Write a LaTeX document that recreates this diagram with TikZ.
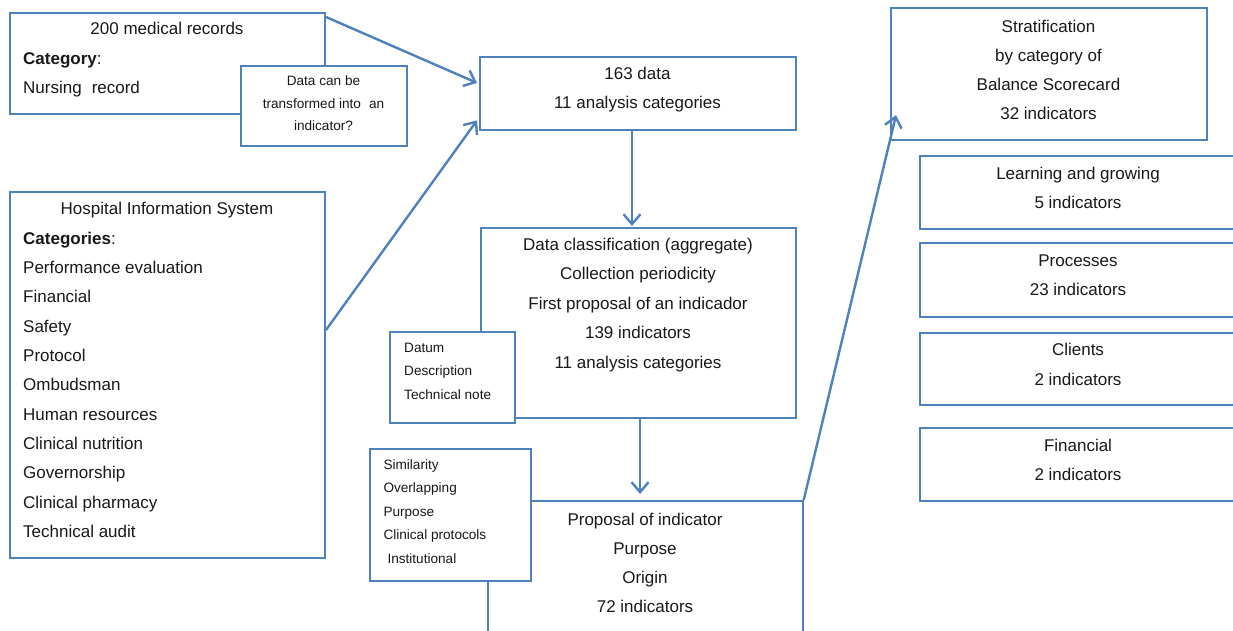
\documentclass[tikz,border=0pt]{standalone}
\usepackage{fontspec}
\setmainfont{Liberation Sans}
\usetikzlibrary{arrows.meta,fit}
\definecolor{bl}{HTML}{4F81BD}
\tikzset{
 box/.style={draw=bl, line width=2pt, fill=white, inner sep=0pt},
 arr/.style={draw=bl, line width=2.4pt, -{Straight Barb[length=10pt,width=17pt]}},
 big/.style={font=\fontsize{17}{20}\selectfont, inner sep=0pt, text=black!90},
 sm/.style={font=\fontsize{13.6}{16}\selectfont, inner sep=0pt, text=black!90},
}
\newcommand\txtlines[6]{\foreach \t [count=\i from 0] in {#6}{\node[#2] (#1\i) at ({#3},{#4+\i*#5}) {\t};}}
\begin{document}
\begin{tikzpicture}[x=1pt,y=-1pt]
\clip (0,0) rectangle (1233,630);
\fill[white] (0,0) rectangle (1233,630);
% 200 medical records
\node[box, fit={(10,12.7) (325,114.3)}] (A) {};
\node[big, anchor=base] (A0) at (167,34.5) {200 medical records};
\txtlines{Al}{big, anchor=base west}{23}{64}{29.5}{\textbf{Category}:, Nursing\hspace{10pt}record}
% question box
\node[box, fit={(240.7,65.7) (407.3,145.7)}] (Q) {};
\txtlines{Qt}{sm, anchor=base}{323.5}{85.7}{22.6}{Data can be, transformed into\hspace{8pt}an, indicator?}
% HIS
\node[box, fit={(10,192) (325,558)}] (H) {};
\node[big, anchor=base] (H0) at (167,214.5) {Hospital Information System};
\txtlines{Hl}{big, anchor=base west}{23}{244}{29.36}{\textbf{Categories}:, Performance evaluation, Financial, Safety, Protocol, Ombudsman, Human resources, Clinical nutrition, Governorship, Clinical pharmacy, Technical audit}
% 163 data
\node[box, fit={(480,57.3) (796,129.5)}] (B) {};
\txtlines{Bt}{big, anchor=base}{637.5}{79.5}{29}{163 data, 11 analysis categories}
% classification
\node[box, fit={(481,228) (795.7,418.3)}] (C) {};
\txtlines{Ct}{big, anchor=base}{638}{250.5}{29.4}{Data classification (aggregate), Collection periodicity, First proposal of an indicador, 139 indicators, 11 analysis categories}
\node[box, fit={(390,331.7) (515,422.7)}] (D) {};
\txtlines{Dt}{sm, anchor=base west}{404}{352.3}{23.35}{Datum, Description, Technical note}
% proposal
\node[box, fit={(487.7,501) (802.7,680)}] (P) {};
\txtlines{Pt}{big, anchor=base}{645}{525}{29.3}{Proposal of indicator, Purpose, Origin, 72 indicators}
\node[box, fit={(370,449.3) (530.7,580.7)}] (S) {};
\txtlines{St}{sm, anchor=base west}{383.3}{469}{23.5}{Similarity, Overlapping, Purpose, Clinical protocols, \hspace{4pt}Institutional}
% right column
\node[box, fit={(891,8.3) (1206.7,140)}] (T) {};
\txtlines{Tt}{big, anchor=base}{1048.5}{32.3}{29}{Stratification, by category of, Balance Scorecard, 32 indicators}
\node[box, fit={(920,155.7) (1260,229)}] (L) {};
\txtlines{Lt}{big, anchor=base}{1078}{179.3}{29}{Learning and growing, 5 indicators}
\node[box, fit={(920,243.3) (1260,316.7)}] (R) {};
\txtlines{Rt}{big, anchor=base}{1078}{266}{29.3}{Processes, 23 indicators}
\node[box, fit={(920,332.7) (1260,405)}] (K) {};
\txtlines{Kt}{big, anchor=base}{1078}{355.5}{29.8}{Clients, 2 indicators}
\node[box, fit={(920,428.3) (1260,500.7)}] (F) {};
\txtlines{Ft}{big, anchor=base}{1078}{451.7}{28.5}{Financial, 2 indicators}
% arrows
\coordinate (c1) at ([xshift=1.7pt]C.south);
\coordinate (b1) at ([xshift=-6pt]B.south);
\draw[arr] ([yshift=-5.3pt]A.north east) -- ([yshift=10.5pt,xshift=-2pt]B.west);
\draw[arr] ([yshift=45pt]H.east) -- ([yshift=-27pt,xshift=-2pt]B.west);
\draw[arr] (b1) -- ([yshift=1pt]b1 |- C.north);
\draw[arr] (c1) -- ([yshift=6pt]c1 |- P.north);
\draw[arr] (P.north east) -- ([xshift=6pt,yshift=-41pt]T.west);
\end{tikzpicture}
\end{document}
